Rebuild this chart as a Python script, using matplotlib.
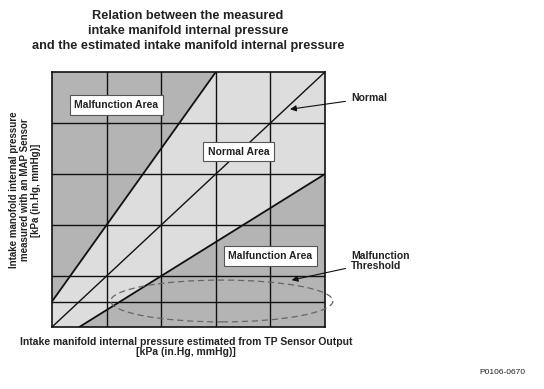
#!/usr/bin/env python3

import matplotlib
matplotlib.use('Agg')
import matplotlib.pyplot as plt
from matplotlib.patches import Ellipse

plt.rcParams['font.family'] = ['Liberation Sans', 'DejaVu Sans']

# Grid positions (x and y in "cell" units, bottom rows are half height)
x_grid = [1, 2, 3, 4]
y_grid = [0.5, 1, 2, 3, 4]

# Diagonal lines
normal_x = [0, 5]
normal_y = [0, 5]
upper_x = [0, 3]
upper_y = [0.5, 5]
lower_x = [0.5, 5]
lower_y = [0, 3]

# Area labels: (text, x, y)
area_labels = [('Malfunction Area', 1.18, 4.35),
               ('Normal Area', 3.42, 3.44),
               ('Malfunction Area', 4.0, 1.39)]

title = ('Relation between the measured\n'
         'intake manifold internal pressure\n'
         'and the estimated intake manifold internal pressure')
xlabel = ('Intake manifold internal pressure estimated from TP Sensor Output\n'
          '[kPa (in.Hg, mmHg)]')
ylabel = ('Intake manofold internal pressure\n'
          'measured with an MAP Sensor\n'
          '[kPa (in.Hg, mmHg)]')

dark = '#b4b4b4'
light = '#dddddd'

fig = plt.figure(figsize=(5.44, 3.89), dpi=100)
ax = fig.add_axes([52 / 544, 1 - 327 / 389, 273 / 544, 255 / 389])
ax.set_xlim(0, 5)
ax.set_ylim(0, 5)
ax.set_facecolor(light)

# shaded malfunction regions
ax.fill([upper_x[0], upper_x[1], 0], [upper_y[0], upper_y[1], 5], color=dark, lw=0)
ax.fill([lower_x[0], lower_x[1], 5], [lower_y[0], lower_y[1], 0], color=dark, lw=0)

for x in x_grid:
    ax.axvline(x, color='#111111', lw=1.0)
for y in y_grid:
    ax.axhline(y, color='#111111', lw=1.0)

ax.plot(normal_x, normal_y, color='#111111', lw=1.0)
ax.plot(upper_x, upper_y, color='#111111', lw=1.3)
ax.plot(lower_x, lower_y, color='#111111', lw=1.3)

ax.add_patch(Ellipse((3.11, 0.51), 4.07, 0.82, fill=False, ls=(0, (5, 3)),
                     ec='#666666', lw=0.9, clip_on=False, zorder=5))

for text, x, y in area_labels:
    ax.text(x, y, text, ha='center', va='center', fontsize=7.5, fontweight='bold',
            color='#222222',
            bbox=dict(boxstyle='square,pad=0.45', fc='white', ec='#555555', lw=0.8))

ax.set_xticks([])
ax.set_yticks([])
for s in ax.spines.values():
    s.set_linewidth(1.2)
    s.set_color('#111111')

# callouts
ax.annotate('Normal', xy=(4.36, 4.27), xycoords='data',
            xytext=(351, 389 - 98), textcoords='figure pixels',
            ha='left', va='center', fontsize=7.5, fontweight='bold', color='#222222',
            arrowprops=dict(arrowstyle='-|>', lw=0.8, color='#111111',
                            mutation_scale=9, shrinkA=2, shrinkB=0))
ax.annotate('Malfunction\nThreshold', xy=(4.39, 0.92), xycoords='data',
            xytext=(351, 389 - 261), textcoords='figure pixels',
            ha='left', va='center', fontsize=7.5, fontweight='bold', color='#222222',
            linespacing=1.1,
            arrowprops=dict(arrowstyle='-|>', lw=0.8, color='#111111',
                            mutation_scale=9, shrinkA=2, shrinkB=0))

fig.text(188 / 544, 1 - 31 / 389, title, ha='center', va='center', fontsize=9.2,
         fontweight='bold', color='#222222', linespacing=1.35)
fig.text(186 / 544, 1 - 347 / 389, xlabel, ha='center', va='center', fontsize=7.5,
         fontweight='bold', color='#222222', linespacing=1.1)
fig.text(25 / 544, 1 - 190 / 389, ylabel, ha='center', va='center', fontsize=7,
         fontweight='bold', color='#222222', rotation=90, linespacing=1.15)
fig.text(502 / 544, 1 - 372 / 389, 'P0106-0670', ha='center', va='center',
         fontsize=6, color='#222222')

fig.savefig('out.png', dpi=100)
